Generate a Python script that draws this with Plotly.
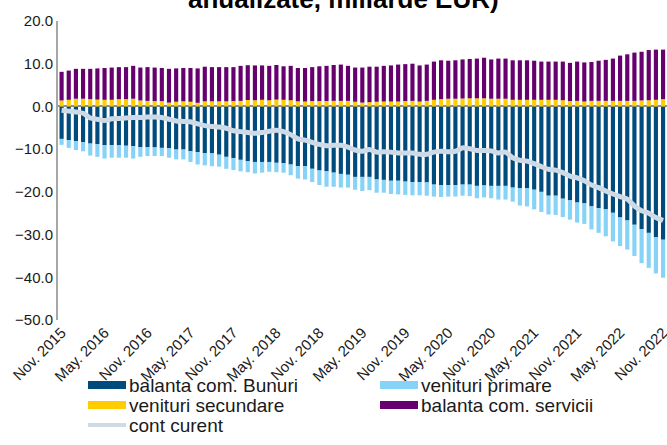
import plotly.graph_objects as go

# ---------------- data (billion EUR, annualised) ----------------
month_names = ["Jan.", "Feb.", "Mar.", "Apr.", "May.", "Jun.", "Jul.", "Aug.", "Sep.", "Oct.", "Nov.", "Dec."]
start_year, start_month = 2015, 11
n_months = 85
categories = []
for k in range(n_months):
    m = (start_month - 1 + k) % 12
    y = start_year + (start_month - 1 + k) // 12
    categories.append(f"{month_names[m]} {y}")

tick_labels = ["Nov. 2015", "May. 2016", "Nov. 2016", "May. 2017", "Nov. 2017", "May. 2018",
               "Nov. 2018", "May. 2019", "Nov. 2019", "May. 2020", "Nov. 2020", "May. 2021",
               "Nov. 2021", "May. 2022", "Nov. 2022"]

bunuri = [-7.6, -7.9, -8.1, -8.4, -8.7, -8.8, -9.1, -9.1, -9.1, -9.2,
          -9.3, -9.5, -9.5, -9.6, -9.7, -9.8, -10.1, -10.1, -10.5, -10.7,
          -10.9, -11.0, -11.3, -11.8, -12.1, -12.5, -12.85, -13.0, -13.0, -13.0,
          -13.2, -13.3, -13.6, -14.0, -14.0, -14.6, -15.0, -15.2, -15.5, -15.8,
          -16.0, -16.5, -16.5, -16.5, -17.1, -17.2, -17.4, -17.4, -17.6, -17.7,
          -17.7, -17.8, -18.3, -18.4, -18.4, -18.4, -18.3, -18.3, -18.6, -18.5,
          -18.6, -18.6, -18.6, -19.0, -19.1, -19.1, -19.5, -20.0, -20.9, -20.9,
          -21.6, -22.0, -22.5, -22.7, -23.4, -23.8, -24.1, -24.9, -26.0, -26.7,
          -27.7, -28.7, -29.6, -30.6, -31.2]

primare = [-1.4, -1.8, -2.1, -2.1, -2.8, -3.0, -3.1, -2.9, -2.9, -2.8,
           -2.9, -2.3, -2.1, -2.0, -1.9, -2.2, -2.3, -2.3, -2.5, -2.9,
           -2.9, -3.0, -2.8, -2.8, -2.8, -2.7, -2.55, -2.7, -2.5, -2.3,
           -2.2, -2.2, -2.5, -2.9, -3.1, -3.1, -3.4, -3.6, -3.3, -3.2,
           -3.0, -3.0, -3.3, -3.1, -3.1, -3.0, -3.1, -3.2, -3.1, -3.1,
           -3.1, -3.1, -2.8, -2.8, -2.7, -2.7, -2.6, -2.7, -2.9, -2.8,
           -2.9, -3.2, -3.2, -3.3, -4.1, -4.3, -4.6, -4.7, -4.4, -4.5,
           -4.3, -4.5, -4.7, -4.8, -5.4, -5.8, -6.3, -6.7, -6.7, -6.8,
           -7.3, -8.0, -8.2, -8.5, -8.9]

secundare = [1.4, 1.55, 1.8, 1.8, 1.7, 1.6, 1.55, 1.55, 1.7, 1.7,
             1.8, 1.4, 1.3, 1.25, 1.25, 0.9, 1.1, 1.2, 1.1, 0.85,
             1.2, 1.2, 1.2, 1.2, 1.25, 1.3, 1.5, 1.45, 1.55, 1.45,
             1.6, 1.55, 1.45, 1.2, 1.15, 1.25, 1.25, 1.25, 1.3, 1.3,
             1.3, 1.1, 0.9, 1.0, 1.1, 1.15, 1.15, 1.15, 1.25, 1.3,
             1.15, 1.3, 1.55, 1.7, 1.8, 1.8, 1.85, 1.9, 1.9, 1.9,
             1.8, 1.8, 1.8, 1.55, 1.55, 1.55, 1.55, 1.55, 1.55, 1.55,
             1.45, 1.25, 1.3, 1.15, 1.3, 1.3, 1.3, 1.3, 1.3, 1.3,
             1.3, 1.4, 1.45, 1.55, 1.7]

servicii = [6.7, 6.85, 7.0, 7.0, 7.1, 7.3, 7.45, 7.55, 7.5, 7.5,
            7.7, 7.7, 7.9, 7.85, 7.75, 7.9, 7.8, 7.8, 7.9, 8.05,
            8.1, 8.0, 8.0, 8.0, 7.95, 8.2, 8.15, 8.15, 8.05, 8.05,
            8.1, 7.85, 8.05, 7.8, 7.85, 7.95, 8.15, 8.25, 8.4, 8.5,
            8.2, 8.0, 8.2, 8.3, 8.2, 8.35, 8.45, 8.65, 8.65, 8.7,
            8.45, 8.5, 8.95, 9.1, 8.9, 9.0, 9.15, 9.2, 9.3, 9.5,
            9.2, 9.4, 9.4, 9.25, 9.25, 9.25, 9.15, 8.95, 8.95, 8.95,
            9.05, 8.95, 9.2, 9.15, 9.1, 9.4, 9.6, 9.9, 10.6, 10.9,
            11.3, 11.4, 11.75, 11.75, 11.6]

cont_curent = [-0.9, -1.1, -1.3, -1.6, -2.7, -3.0, -3.3, -2.9, -2.8, -2.7,
               -2.6, -2.6, -2.5, -2.5, -2.6, -3.0, -3.4, -3.5, -3.6, -4.1,
               -4.5, -4.7, -4.8, -5.1, -5.7, -5.9, -6.1, -6.3, -6.1, -5.8,
               -5.6, -5.9, -6.6, -7.6, -7.9, -8.4, -8.9, -9.2, -9.1, -9.1,
               -9.5, -10.2, -10.5, -10.1, -10.7, -10.6, -10.7, -10.9, -10.9, -10.9,
               -11.2, -11.2, -10.7, -10.5, -10.6, -10.5, -9.7, -9.9, -10.3, -10.3,
               -10.4, -10.9, -10.7, -12.0, -12.6, -12.8, -13.4, -14.1, -14.7, -14.9,
               -15.5, -16.3, -16.7, -17.4, -18.4, -19.0, -19.8, -20.5, -21.1, -21.7,
               -23.3, -24.4, -25.0, -26.0, -26.7]

series_names = ["balanta com. Bunuri", "venituri primare", "venituri secundare",
                "balanta com. servicii", "cont curent"]
colors = ["#004b7d", "#87d2f7", "#ffcc00", "#66006e", "#cfdae7"]

# ---------------- figure ----------------
W, H = 667, 445
ML, MR, MT, MB = 58, 0, 21, 125
PW, PH = W - ML - MR, H - MT - MB

def px(x):
    return (x - ML) / PW

def py(y):
    return (H - MB - y) / PH

fig = go.Figure()
for vals, name, col in zip([bunuri, primare, secundare, servicii], series_names[:4], colors[:4]):
    fig.add_trace(go.Bar(x=categories, y=vals, name=name, marker=dict(color=col, line_width=0),
                         showlegend=False))
fig.add_trace(go.Scatter(x=categories, y=cont_curent, name=series_names[4], mode="lines",
                         line=dict(color=colors[4], width=5, shape="spline", smoothing=0.6),
                         showlegend=False))

font = "Liberation Sans, Arial, sans-serif"

fig.update_layout(
    width=W, height=H,
    margin=dict(l=ML, r=MR, t=MT, b=MB),
    paper_bgcolor="white", plot_bgcolor="white",
    barmode="relative", bargap=0.42,
    font=dict(family=font, size=15, color="#1a1a1a"),
    xaxis=dict(type="category", tickmode="array", tickvals=[categories[i] for i in range(0, n_months, 6)],
               ticktext=tick_labels, tickangle=-45, showgrid=False, showline=False, automargin=False,
               ticks="", range=[-0.5, n_months - 0.45],
               tickfont=dict(size=15, family=font, color="#1a1a1a")),
    yaxis=dict(range=[-50, 20], dtick=10, tickformat=".1f", showgrid=False, automargin=False,
               showline=True, linecolor="#a6a6a6", linewidth=2,
               zeroline=True, zerolinecolor="#8c8c8c", zerolinewidth=2,
               ticks="", tickfont=dict(size=15, family=font, color="#1a1a1a")),
)

# title (partly cut off at the top in the original)
fig.add_annotation(text="<b>anualizate, miliarde EUR)</b>", xref="paper", yref="paper",
                   x=px(343), y=py(16), xanchor="center", yanchor="bottom", showarrow=False,
                   font=dict(size=26, family=font, color="#000000"))

# custom legend
legend_items = [
    (0, 0, 0), (1, 1, 0), (2, 0, 1), (3, 1, 1), (4, 0, 2),
]
col_x = [88, 380]
row_y = [385, 405, 425]
for idx, c, r in legend_items:
    x0 = col_x[c]
    yc = row_y[r]
    if idx < 4:
        fig.add_shape(type="rect", xref="paper", yref="paper", x0=px(x0), x1=px(x0 + 38),
                      y0=py(yc + 4), y1=py(yc - 4), fillcolor=colors[idx], line_width=0)
    else:
        fig.add_shape(type="line", xref="paper", yref="paper", x0=px(x0), x1=px(x0 + 38),
                      y0=py(yc), y1=py(yc), line=dict(color=colors[idx], width=4))
    fig.add_annotation(text=series_names[idx], xref="paper", yref="paper", x=px(x0 + 39), y=py(yc),
                       xanchor="left", yanchor="middle", showarrow=False,
                       font=dict(size=19, family=font, color="#1a1a1a"))

fig.write_html("out.html", config={"displayModeBar": False},
               post_script="document.body.style.margin='0';document.body.style.overflow='hidden';")
